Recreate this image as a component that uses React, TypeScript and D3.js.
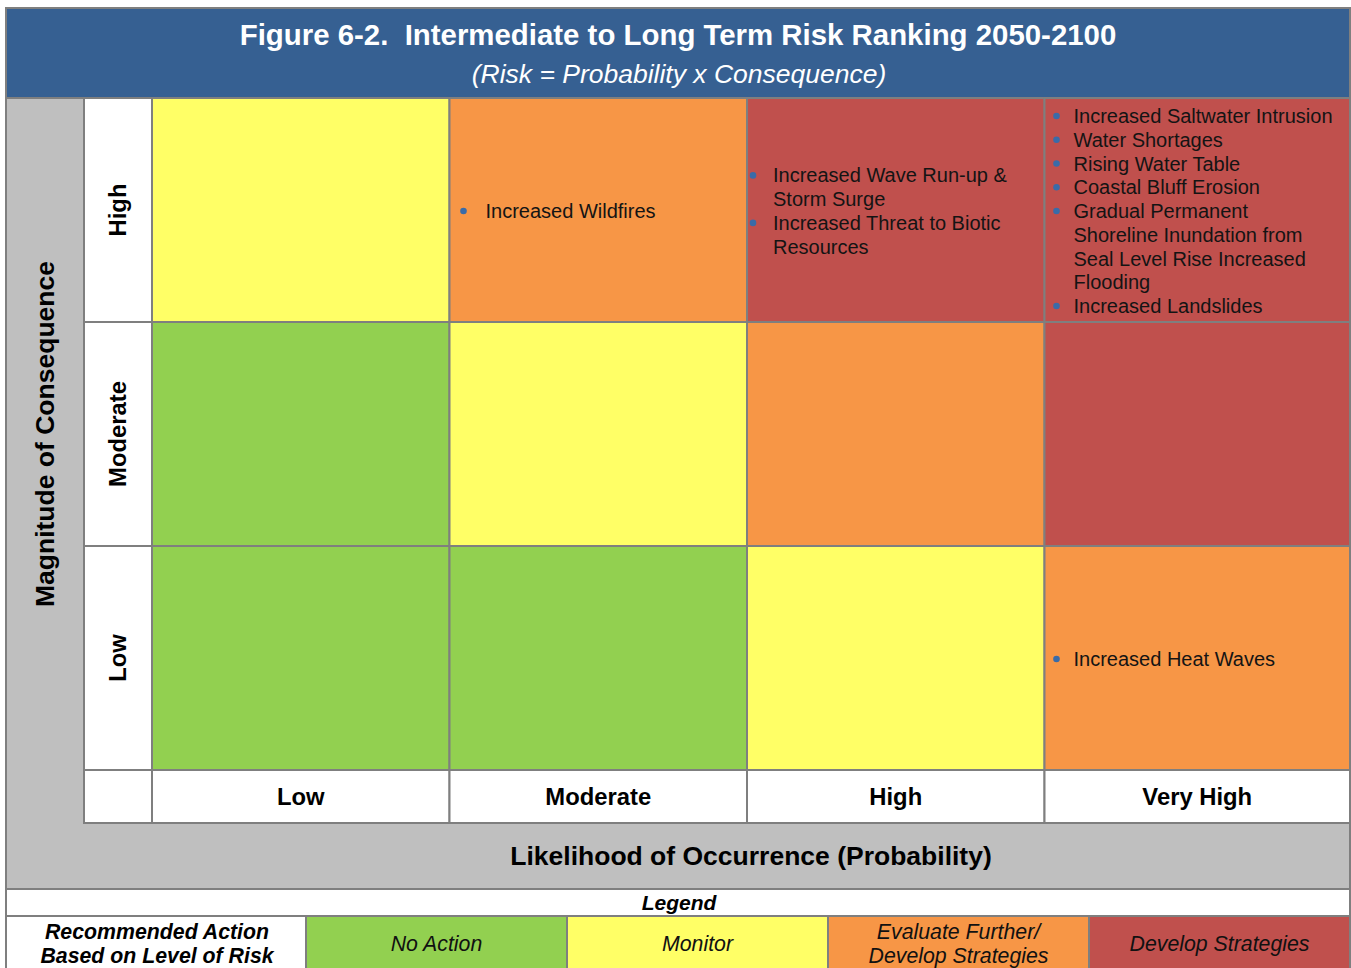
import React from "react";
import * as d3 from "d3";

const W = 1351;
const H = 968;

const titleText = "Figure 6-2.  Intermediate to Long Term Risk Ranking 2050-2100";
const subtitleText = "(Risk = Probability x Consequence)";
const yAxisTitle = "Magnitude of Consequence";
const xAxisTitle = "Likelihood of Occurrence (Probability)";

const likelihoods = ["Low", "Moderate", "High", "Very High"];
const consequences = ["High", "Moderate", "Low"];

// risk level index per [consequence][likelihood]: 0 No Action, 1 Monitor, 2 Evaluate, 3 Develop
const riskMatrix = [
  [1, 2, 3, 3],
  [0, 1, 2, 3],
  [0, 0, 1, 2],
];

// bullet lines per cell [consequence][likelihood]; each item can wrap to multiple lines
const riskItems: string[][][][] = [
  [
    [],
    [["Increased Wildfires"]],
    [["Increased Wave Run-up &", "Storm Surge"], ["Increased Threat to Biotic", "Resources"]],
    [
      ["Increased Saltwater Intrusion"],
      ["Water Shortages"],
      ["Rising Water Table"],
      ["Coastal Bluff Erosion"],
      ["Gradual Permanent", "Shoreline Inundation from", "Seal Level Rise Increased", "Flooding"],
      ["Increased Landslides"],
    ],
  ],
  [[], [], [], []],
  [[], [], [], [["Increased Heat Waves"]]],
];

const legendTitle = "Legend";
const legendHeader = ["Recommended Action", "Based on Level of Risk"];
const legendLabels = [["No Action"], ["Monitor"], ["Evaluate Further/", "Develop Strategies"], ["Develop Strategies"]];
const riskColors = ["#92D050", "#FFFF66", "#F79646", "#C0504D"];

const FONT = "Arial, 'Liberation Sans', Helvetica, sans-serif";
const BORDER = "#7F7F7F";
const GRAY = "#BFBFBF";
const BLUE = "#366092";

// indentation of bullet and text per likelihood column
const bulletIndent = [12, 14, 6, 12];
const textIndent = [29, 36, 26, 29];

export default function App() {
  const left = 6;
  const right = 1350;
  const top = 8;
  const titleBottom = 98;
  const grayColRight = 84;
  const gridLeft = 152;
  const gridRight = 1342;
  const gridTop = titleBottom;
  const gridBottom = 770;
  const labelRowBottom = 823;
  const grayBandBottom = 889;
  const legendTitleBottom = 916;
  const legendBottom = 990;

  const x = d3.scaleBand<string>().domain(likelihoods).range([gridLeft, gridRight]);
  const y = d3.scaleBand<string>().domain(consequences).range([gridTop, gridBottom]);
  const legX = d3
    .scaleBand<string>()
    .domain(legendLabels.map((d) => d.join(" ")))
    .range([306, right]);

  const colW = (i: number) => (i === likelihoods.length - 1 ? right - (x(likelihoods[i]) as number) : x.bandwidth());

  const lineH = 23.75;
  const fs = 20;

  const cells: React.ReactNode[] = [];
  consequences.forEach((c, ri) => {
    likelihoods.forEach((l, ci) => {
      const cx = x(l) as number;
      const cy = y(c) as number;
      const w = colW(ci);
      const h = y.bandwidth();
      cells.push(
        <rect key={`r-${ri}-${ci}`} x={cx} y={cy} width={w} height={h} fill={riskColors[riskMatrix[ri][ci]]} stroke={BORDER} strokeWidth={2} />
      );
      const items = riskItems[ri][ci];
      const nLines = d3.sum(items, (it) => it.length);
      if (nLines > 0) {
        const startY = cy + h / 2 - ((nLines - 1) * lineH) / 2 + 1;
        const bulletX = cx + bulletIndent[ci];
        const textX = cx + textIndent[ci];
        let k = 0;
        items.forEach((it, ii) => {
          it.forEach((line, li) => {
            const ly = startY + k * lineH;
            if (li === 0) {
              cells.push(<circle key={`b-${ri}-${ci}-${ii}`} cx={bulletX} cy={ly} r={3.3} fill="#3A6BA8" />);
            }
            cells.push(
              <text key={`t-${ri}-${ci}-${ii}-${li}`} x={textX} y={ly} dy="0.35em" fontSize={fs} fontFamily={FONT} fill="#141414">
                {line}
              </text>
            );
            k++;
          });
        });
      }
    });
  });

  return (
    <svg width={W} height={H} style={{ position: "absolute", left: 0, top: 0, background: "#fff" }}>
      {/* title */}
      <rect x={left} y={top} width={right - left} height={titleBottom - top} fill={BLUE} stroke={BORDER} strokeWidth={2} />
      <text x={678} y={35} dy="0.35em" textAnchor="middle" fontSize={29.4} fontWeight="bold" fontFamily={FONT} fill="#fff" style={{ whiteSpace: "pre" }}>
        {titleText}
      </text>
      <text x={679} y={74} dy="0.35em" textAnchor="middle" fontSize={26.5} fontStyle="italic" fontFamily={FONT} fill="#fff">
        {subtitleText}
      </text>

      {/* gray frame */}
      <rect x={left} y={titleBottom} width={right - left} height={grayBandBottom - titleBottom} fill={GRAY} stroke={BORDER} strokeWidth={2} />
      <text transform={`translate(${(left + grayColRight) / 2},${(gridTop + gridBottom) / 2}) rotate(-90)`} dy="0.35em" textAnchor="middle" fontSize={26.5} fontWeight="bold" fontFamily={FONT} fill="#000">
        {yAxisTitle}
      </text>
      <text x={(gridLeft + right) / 2} y={(labelRowBottom + grayBandBottom) / 2} dy="0.35em" textAnchor="middle" fontSize={26.5} fontWeight="bold" fontFamily={FONT} fill="#000">
        {xAxisTitle}
      </text>

      {/* row labels */}
      {consequences.map((c) => (
        <g key={`rl-${c}`}>
          <rect x={grayColRight} y={y(c)} width={gridLeft - grayColRight} height={y.bandwidth()} fill="#fff" stroke={BORDER} strokeWidth={2} />
          <text transform={`translate(${(grayColRight + gridLeft) / 2},${(y(c) as number) + y.bandwidth() / 2}) rotate(-90)`} dy="0.35em" textAnchor="middle" fontSize={23.8} fontWeight="bold" fontFamily={FONT} fill="#000">
            {c}
          </text>
        </g>
      ))}

      {/* column labels */}
      <rect x={grayColRight} y={gridBottom} width={gridLeft - grayColRight} height={labelRowBottom - gridBottom} fill="#fff" stroke={BORDER} strokeWidth={2} />
      {likelihoods.map((l, i) => (
        <g key={`cl-${l}`}>
          <rect x={x(l)} y={gridBottom} width={colW(i)} height={labelRowBottom - gridBottom} fill="#fff" stroke={BORDER} strokeWidth={2} />
          <text x={(x(l) as number) + colW(i) / 2} y={(gridBottom + labelRowBottom) / 2} dy="0.35em" textAnchor="middle" fontSize={23.8} fontWeight="bold" fontFamily={FONT} fill="#000">
            {l}
          </text>
        </g>
      ))}

      {cells}

      {/* legend */}
      <rect x={left} y={grayBandBottom} width={right - left} height={legendTitleBottom - grayBandBottom} fill="#fff" stroke={BORDER} strokeWidth={2} />
      <text x={679} y={(grayBandBottom + legendTitleBottom) / 2} dy="0.35em" textAnchor="middle" fontSize={21} fontWeight="bold" fontStyle="italic" fontFamily={FONT} fill="#000">
        {legendTitle}
      </text>
      <rect x={left} y={legendTitleBottom} width={306 - left} height={legendBottom - legendTitleBottom} fill="#fff" stroke={BORDER} strokeWidth={2} />
      {legendHeader.map((t, i) => (
        <text key={`lh-${i}`} x={(left + 306) / 2 + 1} y={932 + i * 24} dy="0.35em" textAnchor="middle" fontSize={21.3} fontWeight="bold" fontStyle="italic" fontFamily={FONT} fill="#000">
          {t}
        </text>
      ))}
      {legendLabels.map((lab, i) => {
        const key = lab.join(" ");
        const lx = legX(key) as number;
        return (
          <g key={`lg-${i}`}>
            <rect x={lx} y={legendTitleBottom} width={legX.bandwidth()} height={legendBottom - legendTitleBottom} fill={riskColors[i]} stroke={BORDER} strokeWidth={2} />
            {lab.map((t, j) => (
              <text key={j} x={lx + legX.bandwidth() / 2} y={(lab.length === 1 ? 944 : 932) + j * 24} dy="0.35em" textAnchor="middle" fontSize={21.3} fontStyle="italic" fontFamily={FONT} fill="#111">
                {t}
              </text>
            ))}
          </g>
        );
      })}
    </svg>
  );
}
